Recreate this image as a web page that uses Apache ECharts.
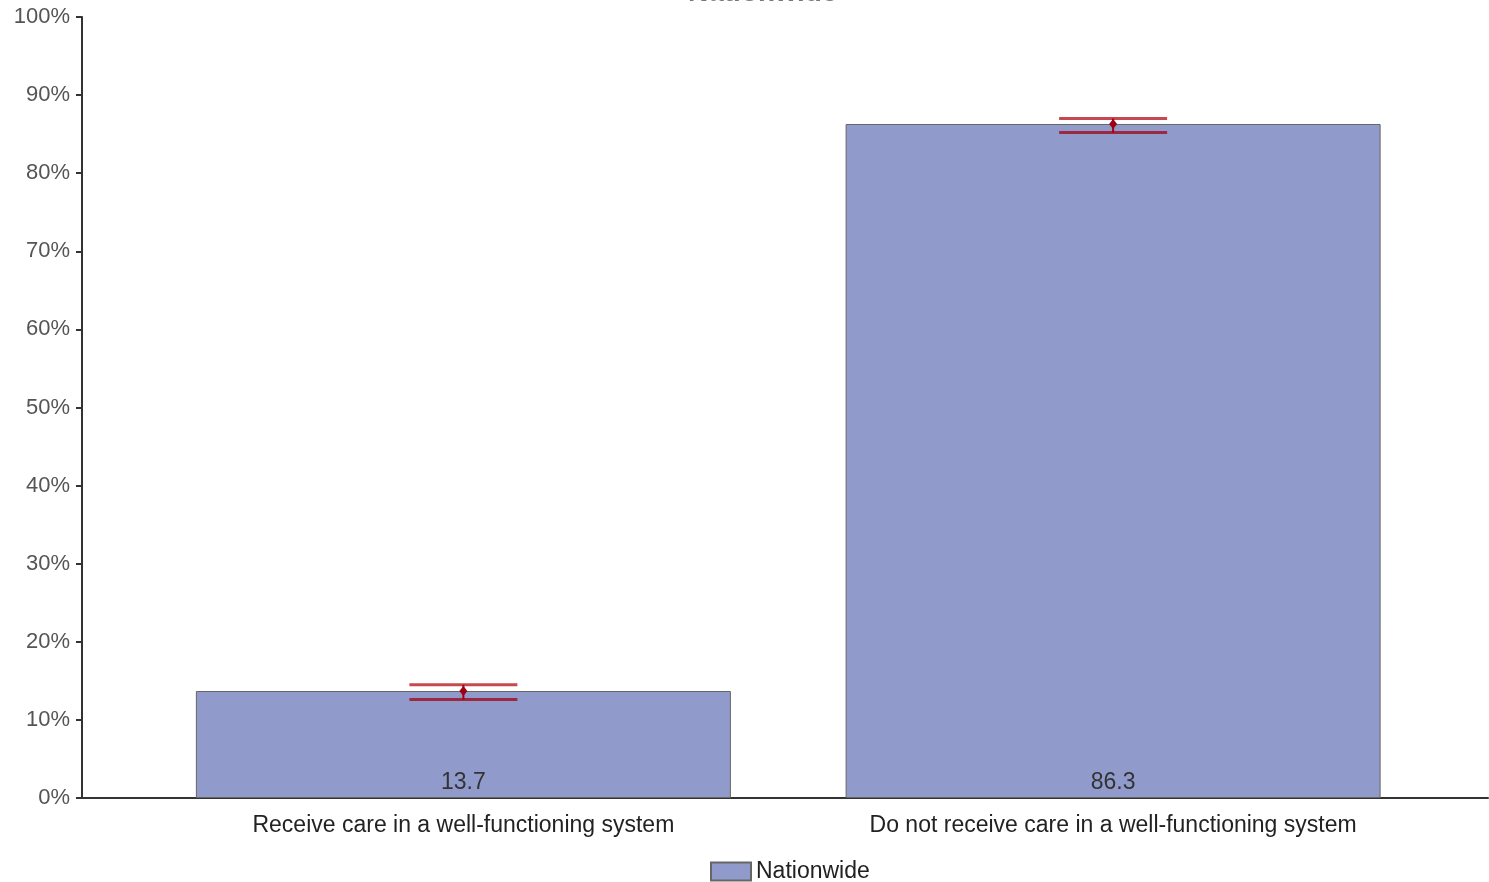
<!DOCTYPE html>
<html>
<head>
<meta charset="utf-8">
<script src="https://cdn.jsdelivr.net/npm/echarts@6/dist/echarts.min.js"></script>
<style>
html,body{margin:0;padding:0;background:#fff;}
#chart{width:1489px;height:882px;}
</style>
</head>
<body>
<div id="chart"></div>
<script>
const categories = ['Receive care in a well-functioning system', 'Do not receive care in a well-functioning system'];
const values = [13.7, 86.3];
const lowerCI = [12.6, 85.2];
const upperCI = [14.5, 87.0];
const yTicks = [0, 10, 20, 30, 40, 50, 60, 70, 80, 90, 100];
const seriesName = 'Nationwide';

const chart = echarts.init(document.getElementById('chart'));
const FONT = '"Liberation Sans", Arial, sans-serif';

const barData = values.map((v, i) => [i, v]);
const errData = values.map((v, i) => [i, lowerCI[i], upperCI[i], v]);

chart.setOption({
  animation: false,
  title: {
    text: 'Nationwide',
    left: 683,
    top: -26,
    textStyle: { fontFamily: FONT, fontSize: 28, fontWeight: 'bold', color: '#777' }
  },
  grid: { left: 82, right: 1, top: 17, bottom: 84, containLabel: false },
  legend: {
    data: [seriesName],
    left: 705,
    top: 855,
    icon: 'rect',
    itemWidth: 40,
    itemHeight: 18,
    itemGap: 10,
    textStyle: { fontFamily: FONT, fontSize: 23, color: '#222' }
  },
  xAxis: {
    type: 'value',
    min: -0.587,
    max: 1.577,
    splitLine: { show: false },
    axisLine: { show: true, onZero: true, lineStyle: { color: '#333', width: 2 } },
    axisTick: { show: false },
    axisLabel: {
      customValues: [0, 1],
      formatter: v => categories[Math.round(v)] || '',
      margin: 16,
      fontFamily: FONT,
      fontSize: 23,
      color: '#222'
    }
  },
  yAxis: {
    type: 'value',
    min: 0,
    max: 100,
    interval: 10,
    splitLine: { show: false },
    axisLine: { show: true, onZero: false, lineStyle: { color: '#333', width: 2 } },
    axisTick: { show: true, length: 6, lineStyle: { color: '#333', width: 2 } },
    axisLabel: {
      formatter: '{value}%',
      margin: 12,
      fontFamily: FONT,
      fontSize: 22,
      color: '#555'
    }
  },
  series: [
    {
      name: seriesName,
      type: 'bar',
      data: barData,
      barWidth: 535,
      itemStyle: { color: '#909bcc', borderColor: '#666', borderWidth: 1 },
      label: {
        show: true,
        position: 'insideBottom',
        distance: 4,
        formatter: p => values[p.dataIndex].toFixed(1),
        fontFamily: FONT,
        fontSize: 23,
        color: '#333'
      },
      z: 2
    },
    {
      name: 'ci',
      type: 'custom',
      data: errData,
      z: 5,
      renderItem: (params, api) => {
        const x = api.value(0);
        const lo = api.coord([x, api.value(1)]);
        const hi = api.coord([x, api.value(2)]);
        const mid = api.coord([x, api.value(3)]);
        const hw = 54;
        return {
          type: 'group',
          children: [
            { type: 'line', shape: { x1: hi[0] - hw, y1: hi[1], x2: hi[0] + hw, y2: hi[1] }, style: { stroke: 'rgba(190,40,50,0.85)', lineWidth: 3 } },
            { type: 'line', shape: { x1: lo[0] - hw, y1: lo[1], x2: lo[0] + hw, y2: lo[1] }, style: { stroke: 'rgba(160,20,40,0.85)', lineWidth: 3 } },
            { type: 'line', shape: { x1: mid[0], y1: hi[1], x2: mid[0], y2: lo[1] }, style: { stroke: '#a00010', lineWidth: 2 } },
            { type: 'polygon', shape: { points: [[mid[0], mid[1] - 5], [mid[0] + 4, mid[1]], [mid[0], mid[1] + 5], [mid[0] - 4, mid[1]]] }, style: { fill: '#a00010' } }
          ]
        };
      }
    }
  ]
});
</script>
</body>
</html>
